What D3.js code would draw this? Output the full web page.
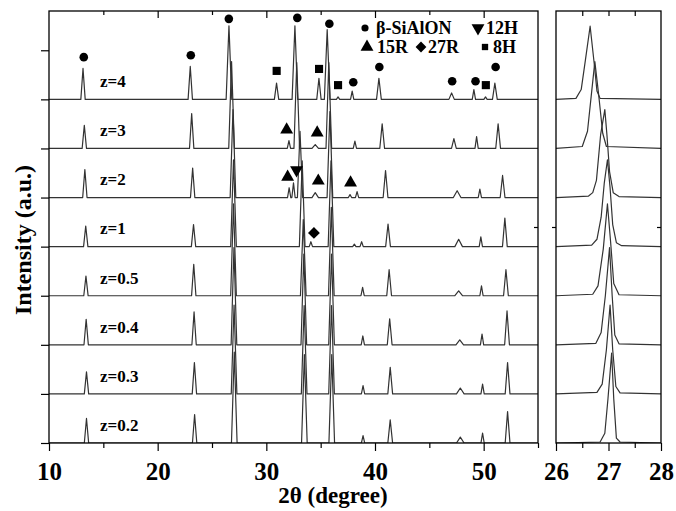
<!DOCTYPE html>
<meta charset="utf-8">
<html lang="en">
<head>
  <title>XRD patterns of beta-SiAlON</title>
  <script src="https://d3js.org/d3.v7.min.js"></script>
  <style>
    body { margin: 0; background: #fff; }
    text { font-family: "Liberation Serif", "Times New Roman", serif; font-weight: bold; fill: #000; }
    .trace { fill: none; stroke: #333; stroke-width: 1.2; stroke-linejoin: round; }
    .frame { fill: none; stroke: #000; stroke-width: 1.3; }
    .tick line { stroke: #000; stroke-width: 1.2; }
  </style>
</head>
<body>
<div id="chart"></div>
<script>

// series labels, bottom to top, and their vertical offset (a.u.)
var zLabels = ["z=0.2", "z=0.3", "z=0.4", "z=0.5", "z=1", "z=2", "z=3", "z=4"];
var offsets = [0, 1, 2, 3, 4, 5, 6, 7];

// main panel peaks for every sample: [2theta, height, half base width]
var pks02 = [[13.45,0.5,0.2],[23.4,0.58,0.2],[27.05,1.85,0.26],[33.5,1.8,0.26],[36.02,1.8,0.26],[38.9,0.15,0.15],[41.4,0.47,0.22],[47.85,0.12,0.35],[49.9,0.2,0.15],[52.2,0.64,0.22]];
var pks03 = [[13.45,0.45,0.2],[23.38,0.64,0.2],[27.03,1.81,0.26],[33.48,1.8,0.26],[36.0,1.8,0.26],[38.9,0.17,0.15],[41.4,0.54,0.22],[47.85,0.12,0.35],[49.9,0.2,0.15],[52.2,0.64,0.22]];
var pks04 = [[13.42,0.52,0.2],[23.35,0.67,0.2],[27.02,1.98,0.26],[33.45,1.85,0.26],[36.0,1.85,0.26],[38.88,0.18,0.15],[41.35,0.53,0.22],[47.8,0.1,0.35],[49.85,0.22,0.15],[52.15,0.69,0.22]];
var pks05 = [[13.4,0.4,0.2],[23.32,0.64,0.2],[26.98,1.87,0.26],[33.4,1.55,0.26],[35.98,1.8,0.26],[38.86,0.17,0.15],[41.3,0.53,0.22],[47.7,0.1,0.35],[49.8,0.2,0.15],[52.05,0.53,0.22]];
var pks1  = [[13.38,0.42,0.2],[23.3,0.45,0.2],[26.98,1.77,0.26],[33.3,1.75,0.26],[34.1,0.1,0.15],[35.95,1.75,0.26],[38.1,0.05,0.15],[38.77,0.1,0.15],[41.2,0.46,0.22],[47.7,0.15,0.35],[49.74,0.2,0.15],[51.95,0.58,0.22]];
var pks2  = [[13.3,0.57,0.2],[23.22,0.6,0.2],[26.93,1.79,0.26],[32.1,0.2,0.15],[32.5,0.3,0.15],[33.1,1.35,0.24],[34.5,0.1,0.3],[35.85,1.75,0.26],[37.7,0.06,0.15],[38.35,0.12,0.15],[40.97,0.55,0.22],[47.56,0.14,0.35],[49.65,0.17,0.15],[51.74,0.45,0.22]];
var pks3  = [[13.25,0.47,0.2],[23.13,0.71,0.2],[26.8,1.77,0.26],[32.08,0.16,0.15],[32.8,1.75,0.26],[34.5,0.08,0.3],[35.75,1.75,0.26],[38.15,0.15,0.15],[40.66,0.5,0.22],[47.26,0.2,0.22],[49.35,0.24,0.15],[51.33,0.5,0.22]];
var pks4  = [[13.13,0.63,0.2],[23.0,0.67,0.2],[26.56,1.5,0.26],[30.94,0.33,0.2],[32.63,1.5,0.26],[34.84,0.43,0.2],[35.6,1.42,0.26],[36.6,0.05,0.15],[37.9,0.17,0.15],[40.36,0.43,0.22],[47.05,0.13,0.25],[49.1,0.2,0.15],[50.17,0.05,0.15],[51.03,0.33,0.22]];
var mainPeaks = [pks02, pks03, pks04, pks05, pks1, pks2, pks3, pks4];

// right panel: (101) peak profile near 27 degrees, [2theta, height]
var prof02 = [[26,0],[26.84,0.02],[26.93,0.2],[26.99,0.9],[27.06,1.83],[27.1,0.9],[27.15,0.1],[27.22,0.02],[28,0]];
var prof03 = [[26,0],[26.78,0.03],[26.88,0.2],[26.96,0.9],[27.03,1.81],[27.08,0.9],[27.14,0.15],[27.22,0.02],[28,0]];
var prof04 = [[26,0],[26.76,0.03],[26.86,0.25],[26.94,1.0],[27.02,1.98],[27.07,1.0],[27.12,0.2],[27.2,0.02],[28,0]];
var prof05 = [[26,0],[26.7,0.03],[26.8,0.2],[26.9,0.95],[26.98,1.87],[27.04,1.1],[27.1,0.25],[27.2,0.02],[28,0]];
var prof1  = [[26,0],[26.68,0.03],[26.78,0.15],[26.86,0.6],[26.92,1.3],[26.98,1.77],[27.03,1.2],[27.08,0.45],[27.15,0.08],[27.25,0.02],[28,0]];
var prof2  = [[26,0],[26.62,0.03],[26.7,0.1],[26.77,0.35],[26.85,1.28],[26.93,1.79],[26.97,1.28],[27.02,0.53],[27.09,0.1],[27.2,0.02],[28,0]];
var prof3  = [[26,0],[26.5,0.04],[26.6,0.35],[26.67,1.06],[26.74,1.77],[26.81,1.12],[26.89,0.31],[26.96,0.04],[28,0]];
var prof4  = [[26,0],[26.38,0.02],[26.48,0.2],[26.56,0.8],[26.65,1.49],[26.73,0.71],[26.78,0.17],[26.84,0.02],[28,0]];
var rightProfiles = [prof02, prof03, prof04, prof05, prof1, prof2, prof3, prof4];

// phase markers: [2theta, intensity position]
var betaMarks = [[13.2,7.86],[23.05,7.9],[26.55,8.64],[32.85,8.66],[35.8,8.54],[38.0,7.35],[40.4,7.66],[47.1,7.37],[49.25,7.37],[51.1,7.66]];
var h8Marks   = [[30.95,7.58],[34.85,7.62],[36.6,7.29],[50.2,7.29]];
var r15Marks  = [[31.87,6.38],[34.68,6.32],[31.96,5.42],[34.78,5.34],[37.75,5.3]];
var h12Marks  = [[32.78,5.56]];
var r27Marks  = [[34.38,4.28]];

// axis ticks
var xMajor = [10, 20, 30, 40, 50];
var xMinor = [15, 25, 35, 45, 55];
var x2Major = [26, 27, 28];
var x2Minor = [26.5, 27.5];
var yTicks = [0, 1, 2, 3, 4, 5, 6, 7, 8];

var W = 676, H = 511;
var plotTop = 11, plotBottom = 443;

var svg = d3.select("#chart").append("svg")
    .attr("width", W)
    .attr("height", H);

var x = d3.scaleLinear().domain([10, 55]).range([49, 538]);
var x2 = d3.scaleLinear().domain([26, 28]).range([556, 661]);
var y = d3.scaleLinear().domain([0, 8.8]).range([plotBottom, plotTop]);

// clip paths for the two panels
var defs = svg.append("defs");
defs.append("clipPath").attr("id", "clipMain").append("rect")
    .attr("x", x(10)).attr("y", plotTop).attr("width", x(55) - x(10)).attr("height", plotBottom - plotTop);
defs.append("clipPath").attr("id", "clipRight").append("rect")
    .attr("x", x2(26)).attr("y", plotTop).attr("width", x2(28) - x2(26)).attr("height", plotBottom - plotTop);

// turn a peak list into line points
function peakPoints(pk, off) {
    var pts = [[10, off]];
    pk.forEach(function(p) {
        pts.push([p[0] - p[2], off], [p[0], off + p[1]], [p[0] + p[2], off]);
    });
    pts.push([55, off]);
    return pts;
}

var lineMain = d3.line().x(function(d) { return x(d[0]); }).y(function(d) { return y(d[1]); });
var lineRight = d3.line().x(function(d) { return x2(d[0]); }).y(function(d) { return y(d[1]); });

// main panel traces
svg.append("g").attr("clip-path", "url(#clipMain)")
  .selectAll("path")
  .data(mainPeaks)
  .enter().append("path")
    .attr("class", "trace")
    .attr("d", function(d, i) { return lineMain(peakPoints(d, offsets[i])); });

// right panel traces
svg.append("g").attr("clip-path", "url(#clipRight)")
  .selectAll("path")
  .data(rightProfiles)
  .enter().append("path")
    .attr("class", "trace")
    .attr("d", function(d, i) {
        return lineRight(d.map(function(p) { return [p[0], p[1] + offsets[i]]; }));
    });

// sample labels
svg.append("g").selectAll("text")
  .data(zLabels)
  .enter().append("text")
    .attr("x", x(14.7))
    .attr("y", function(d, i) { return y(offsets[i] + 0.37) + 6; })
    .style("font-size", "17px")
    .text(function(d) { return d; });

// phase markers
function addMarks(data, type, size, rot) {
    svg.append("g").selectAll("path")
      .data(data)
      .enter().append("path")
        .attr("d", d3.symbol().type(type).size(size))
        .attr("transform", function(d) {
            return "translate(" + x(d[0]) + "," + y(d[1]) + ") rotate(" + rot + ")";
        })
        .style("fill", "#000");
}
addMarks(betaMarks, d3.symbolCircle, 58, 0);
addMarks(h8Marks, d3.symbolSquare, 66, 0);
addMarks(r15Marks, d3.symbolTriangle, 72, 0);
addMarks(h12Marks, d3.symbolTriangle, 72, 180);
addMarks(r27Marks, d3.symbolSquare, 70, 45);

// legend
var legend = svg.append("g");
var legendItems = [
    {sym: d3.symbolCircle, size: 40, rot: 0, sx: 365, sy: 28, label: "β-SiAlON", tx: 376},
    {sym: d3.symbolTriangle, size: 72, rot: 180, sx: 478, sy: 28, label: "12H", tx: 486},
    {sym: d3.symbolTriangle, size: 72, rot: 0, sx: 367, sy: 47, label: "15R", tx: 377},
    {sym: d3.symbolSquare, size: 58, rot: 45, sx: 421, sy: 47, label: "27R", tx: 428},
    {sym: d3.symbolSquare, size: 40, rot: 0, sx: 485, sy: 47, label: "8H", tx: 493}
];
legendItems.forEach(function(d) {
    legend.append("path")
        .attr("d", d3.symbol().type(d.sym).size(d.size))
        .attr("transform", "translate(" + d.sx + "," + d.sy + ") rotate(" + d.rot + ")")
        .style("fill", "#000");
    legend.append("text")
        .attr("x", d.tx)
        .attr("y", d.sy + 6)
        .style("font-size", "18px")
        .text(d.label);
});

// axes: main panel
function styleAxis(g) {
    g.select(".domain").remove();
    g.selectAll("text").style("font-size", "25px");
}
svg.append("g").attr("transform", "translate(0," + plotBottom + ")")
    .call(d3.axisBottom(x).tickValues(xMajor).tickSize(8).tickPadding(11).tickFormat(d3.format("d")))
    .call(styleAxis);
svg.append("g").attr("transform", "translate(0," + plotBottom + ")")
    .call(d3.axisBottom(x).tickValues(xMinor).tickSize(5).tickFormat(""))
    .call(styleAxis);
svg.append("g").attr("transform", "translate(0," + plotTop + ")")
    .call(d3.axisTop(x).tickValues(xMajor.slice(1)).tickSize(-7).tickFormat(""))
    .call(styleAxis);
svg.append("g").attr("transform", "translate(0," + plotTop + ")")
    .call(d3.axisTop(x).tickValues(xMinor.slice(0, 4)).tickSize(-4).tickFormat(""))
    .call(styleAxis);
svg.append("g").attr("transform", "translate(" + x(10) + ",0)")
    .call(d3.axisLeft(y).tickValues(yTicks).tickSize(8).tickFormat(""))
    .call(styleAxis);
svg.append("g").attr("transform", "translate(" + x(55) + ",0)")
    .call(d3.axisRight(y).tickValues([4.4]).tickSize(-4).tickFormat(""))
    .call(styleAxis);

// axes: right panel
svg.append("g").attr("transform", "translate(0," + plotBottom + ")")
    .call(d3.axisBottom(x2).tickValues(x2Major).tickSize(8).tickPadding(11).tickFormat(d3.format("d")))
    .call(styleAxis);
svg.append("g").attr("transform", "translate(0," + plotBottom + ")")
    .call(d3.axisBottom(x2).tickValues(x2Minor).tickSize(5).tickFormat(""))
    .call(styleAxis);
svg.append("g").attr("transform", "translate(0," + plotTop + ")")
    .call(d3.axisTop(x2).tickValues([26.5, 27, 27.5]).tickSize(-5).tickFormat(""))
    .call(styleAxis);
svg.append("g").attr("transform", "translate(" + x2(26) + ",0)")
    .call(d3.axisLeft(y).tickValues([4.4]).tickSize(4).tickFormat(""))
    .call(styleAxis);
svg.append("g").attr("transform", "translate(" + x2(28) + ",0)")
    .call(d3.axisRight(y).tickValues([4.4]).tickSize(-4).tickFormat(""))
    .call(styleAxis);

// panel frames
svg.append("rect").attr("class", "frame")
    .attr("x", x(10)).attr("y", plotTop).attr("width", x(55) - x(10)).attr("height", plotBottom - plotTop);
svg.append("rect").attr("class", "frame")
    .attr("x", x2(26)).attr("y", plotTop).attr("width", x2(28) - x2(26)).attr("height", plotBottom - plotTop);

// axis titles
svg.append("text")
    .attr("x", 333)
    .attr("y", 503)
    .style("text-anchor", "middle")
    .style("font-size", "23px")
    .text("2θ (degree)");

svg.append("text")
    .attr("transform", "translate(31,240) rotate(-90)")
    .style("text-anchor", "middle")
    .style("font-size", "24px")
    .text("Intensity (a.u.)");

</script>
</body>
</html>
